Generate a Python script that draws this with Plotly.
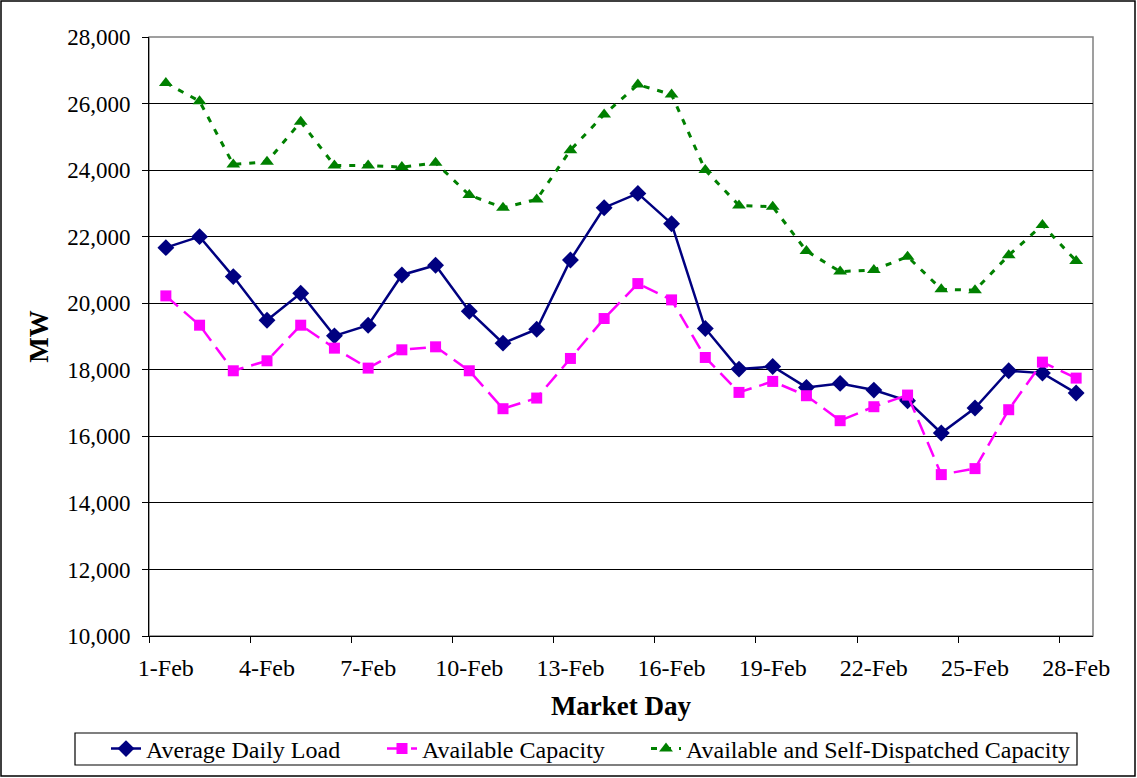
import plotly.graph_objects as go

days = [f"{d}-Feb" for d in range(1, 29)]
avg_load = [21670, 22000, 20800, 19490, 20300, 19020, 19340, 20850, 21140, 19760,
            18800, 19220, 21300, 22870, 23300, 22390, 19240, 18020, 18100, 17470,
            17590, 17390, 17070, 16100, 16850, 17970, 17900, 17300]
avail_cap = [20220, 19340, 17970, 18270, 19340, 18650, 18050, 18600, 18690, 17970,
             16830, 17150, 18340, 19540, 20590, 20100, 18370, 17320, 17650, 17220,
             16470, 16890, 17240, 14850, 15030, 16800, 18230, 17750]
avail_self = [26620, 26070, 24170, 24250, 25450, 24140, 24140, 24090, 24220, 23250,
              22870, 23120, 24600, 25670, 26570, 26270, 24000, 22940, 22900, 21570,
              20950, 21000, 21400, 20420, 20390, 21440, 22350, 21270]
tick_step = 3

FONT = "Liberation Serif"
idx = list(range(len(days)))

# plot-area geometry (px) used to convert legend placement to paper coordinates
L, R, T, B, W, H = 149, 44, 37, 142, 1137, 778
PW, PH = W - L - R, H - T - B
px = lambda x: (x - L) / PW
py = lambda y: (H - B - y) / PH

fig = go.Figure()
fig.add_trace(go.Scatter(x=idx, y=avg_load, name="Average Daily Load", mode="lines+markers",
                         line=dict(color="#000080", width=2.5),
                         marker=dict(symbol="diamond", size=13, color="#000080"),
                         legend="legend"))
fig.add_trace(go.Scatter(x=idx, y=avail_cap, name="Available Capacity", mode="lines+markers",
                         line=dict(color="#FF00FF", width=2.5, dash="16px,8px"),
                         marker=dict(symbol="square", size=11, color="#FF00FF"),
                         legend="legend2"))
fig.add_trace(go.Scatter(x=idx, y=avail_self, name="Available and Self-Dispatched Capacity",
                         mode="lines+markers",
                         line=dict(color="#008000", width=3, dash="6px,8px"),
                         marker=dict(symbol="triangle-up", size=12, color="#008000"),
                         legend="legend3"))

tickvals = idx[::tick_step]
ticktext = days[::tick_step]

leg_common = dict(orientation="h", xanchor="left", y=py(749), yanchor="middle",
                  borderwidth=0, bgcolor="rgba(0,0,0,0)",
                  font=dict(family=FONT, size=24, color="black"))

fig.update_layout(
    width=W, height=H,
    margin=dict(l=L, r=R, t=T, b=B, autoexpand=False),
    paper_bgcolor="white", plot_bgcolor="white",
    font=dict(family=FONT, color="black", size=22),
    showlegend=True,
    legend=dict(x=px(106), **leg_common),
    legend2=dict(x=px(382), **leg_common),
    legend3=dict(x=px(646), **leg_common),
    xaxis=dict(range=[-0.5, len(days) - 0.5], tickmode="array", tickvals=tickvals,
               ticktext=ticktext, ticks="", showgrid=False, zeroline=False,
               showline=True, linecolor="black", linewidth=1,
               tickfont=dict(family=FONT, size=24), ticklabelstandoff=10,
               minor=dict(tickmode="linear", tick0=-0.5, dtick=tick_step, ticks="outside",
                          ticklen=6, tickcolor="black", tickwidth=1, showgrid=False),
               title=dict(text="<b>Market Day</b>", font=dict(family=FONT, size=27),
                          standoff=16)),
    yaxis=dict(range=[10000, 28000], dtick=2000, tickformat=",", ticks="outside",
               ticklen=6, tickcolor="black", showgrid=True, gridcolor="#000000",
               gridwidth=1, zeroline=False, showline=True, linecolor="black", linewidth=1,
               tickfont=dict(family=FONT, size=23), ticklabelstandoff=7,
               title=dict(text="<b>MW</b>", font=dict(family=FONT, size=27), standoff=10)),
    shapes=[
        dict(type="rect", xref="paper", yref="paper", x0=0, x1=1, y0=0, y1=1,
             line=dict(color="#808080", width=1.5), layer="below"),
        dict(type="rect", xref="paper", yref="paper", x0=px(1), x1=px(1135),
             y0=py(776), y1=py(1), line=dict(color="black", width=1.5), layer="below"),
        dict(type="rect", xref="paper", yref="paper", x0=px(75), x1=px(1077),
             y0=py(765), y1=py(733), line=dict(color="black", width=1.2), layer="below"),
    ],
)

fig.write_html("out.html", config={"displayModeBar": False},
               post_script="document.body.style.margin='0';document.body.style.overflow='hidden';")
